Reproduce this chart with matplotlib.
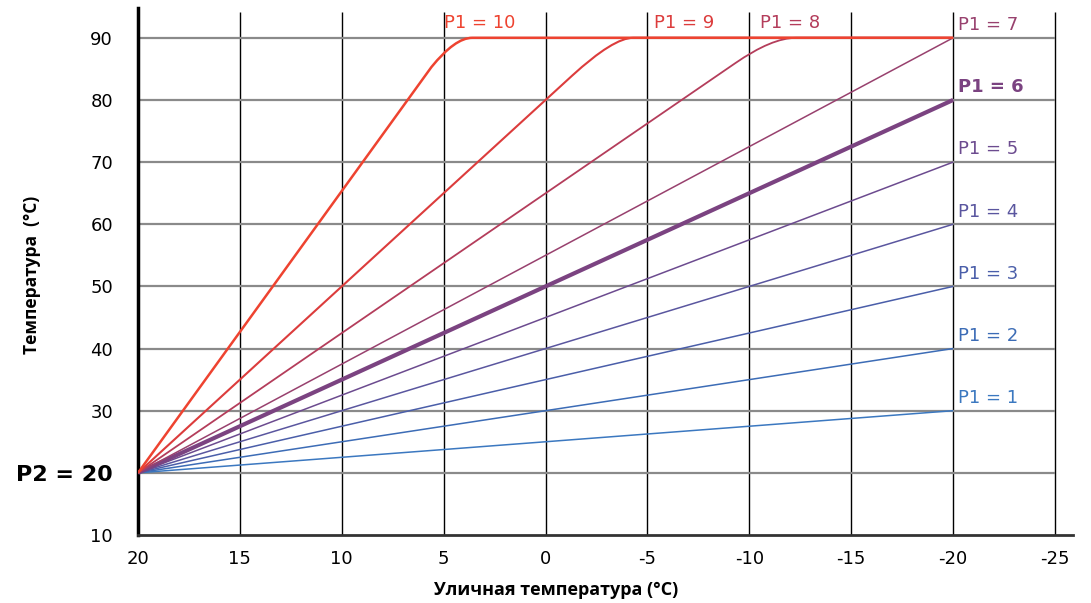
import numpy as np
import matplotlib.pyplot as plt
from matplotlib.path import Path
from matplotlib.patches import PathPatch

plt.rcParams['font.family'] = ['DejaVu Sans']

# straight curves P1 = 1..7: flow temperature at outdoor 20 and -20
outdoor_ends = [20, -20]
flow_ends = {1: [20, 30], 2: [20, 40], 3: [20, 50], 4: [20, 60],
             5: [20, 70], 6: [20, 80], 7: [20, 90]}

# steep curves P1 = 8..10, limited at 90:
# start, end of straight part, corner, end of rounding, end at -20
curve8_x = [20, -9.3, -11.1, -12.3, -20]
curve8_y = [20, 85.9, 90, 90, 90]
curve9_x = [20, -1.3, -3.33, -4.3, -20]
curve9_y = [20, 83.9, 90, 90, 90]
curve10_x = [20, 5.6, 4.44, 3.6, -20]
curve10_y = [20, 85.3, 90, 90, 90]

colors = {1: '#3b78c0', 2: '#3c6cb6', 3: '#4a5ea9', 4: '#5a569f', 5: '#6c4b8f',
          6: '#7b4381', 7: '#98416e', 8: '#b43d5b', 9: '#dc3c3c', 10: '#ee4330'}

x_ticks = [20, 15, 10, 5, 0, -5, -10, -15, -20, -25]
y_ticks = [10, 20, 30, 40, 50, 60, 70, 80, 90]
y_labels = ['10', 'P2 = 20', '30', '40', '50', '60', '70', '80', '90']

fig = plt.figure(figsize=(10.91, 6.03), dpi=100)
ax = fig.add_axes([0.1265, 0.1128, 0.857, 0.874])
ax.set_xlim(20, -25.88)
ax.set_ylim(10, 94.8)

# grid
ax.vlines(x_ticks[1:], 10, 94.2, color='black', lw=1.0, zorder=1)
ax.hlines(y_ticks[1:], 20, -25, color='#8a8a8a', lw=1.6, zorder=1)

for k in range(1, 8):
    ax.plot(outdoor_ends, flow_ends[k], color=colors[k],
            lw=3.0 if k == 6 else 1.1, zorder=3, solid_capstyle='butt')

codes = [Path.MOVETO, Path.LINETO, Path.CURVE3, Path.CURVE3, Path.LINETO]
for k, cx, cy, lw in [(8, curve8_x, curve8_y, 1.3), (9, curve9_x, curve9_y, 1.5),
                      (10, curve10_x, curve10_y, 1.8)]:
    path = Path(np.column_stack([cx, cy]), codes)
    ax.add_patch(PathPatch(path, facecolor='none', edgecolor=colors[k], lw=lw,
                           zorder=4 if k == 10 else 3))

for k in range(1, 8):
    ax.text(-20.25, flow_ends[k][1] + 0.6, 'P1 = %d' % k, color=colors[k],
            fontsize=13, ha='left', va='bottom',
            fontweight='bold' if k == 6 else 'normal')
ax.text(5.0, 91.0, 'P1 = 10', color=colors[10], fontsize=13, ha='left', va='bottom')
ax.text(-5.3, 91.0, 'P1 = 9', color=colors[9], fontsize=13, ha='left', va='bottom')
ax.text(-10.5, 91.0, 'P1 = 8', color=colors[8], fontsize=13, ha='left', va='bottom')

ax.set_xticks(x_ticks)
ax.set_xticklabels([str(t) for t in x_ticks], fontsize=13)
ax.set_yticks(y_ticks)
ax.set_yticklabels(y_labels, fontsize=13)
ax.get_yticklabels()[1].set_fontweight('bold')
ax.get_yticklabels()[1].set_fontsize(16)
ax.tick_params(length=0, pad=11)
ax.tick_params(axis='y', pad=18)

ax.spines['top'].set_visible(False)
ax.spines['right'].set_visible(False)
ax.spines['left'].set_linewidth(2.5)
ax.spines['left'].set_color('black')
ax.spines['bottom'].set_linewidth(2.0)
ax.spines['bottom'].set_color('#333333')

ax.set_xlabel('Уличная температура (°C)', fontsize=13, fontweight='bold',
              family='Open Sans', va='center')
ax.xaxis.set_label_coords(0.447, -0.104)
ax.set_ylabel('Температура  (°C)', fontsize=12.5, fontweight='bold',
              family='Open Sans', va='center')
ax.yaxis.set_label_coords(-0.113, 0.493)

fig.savefig('out.png', dpi=100)
